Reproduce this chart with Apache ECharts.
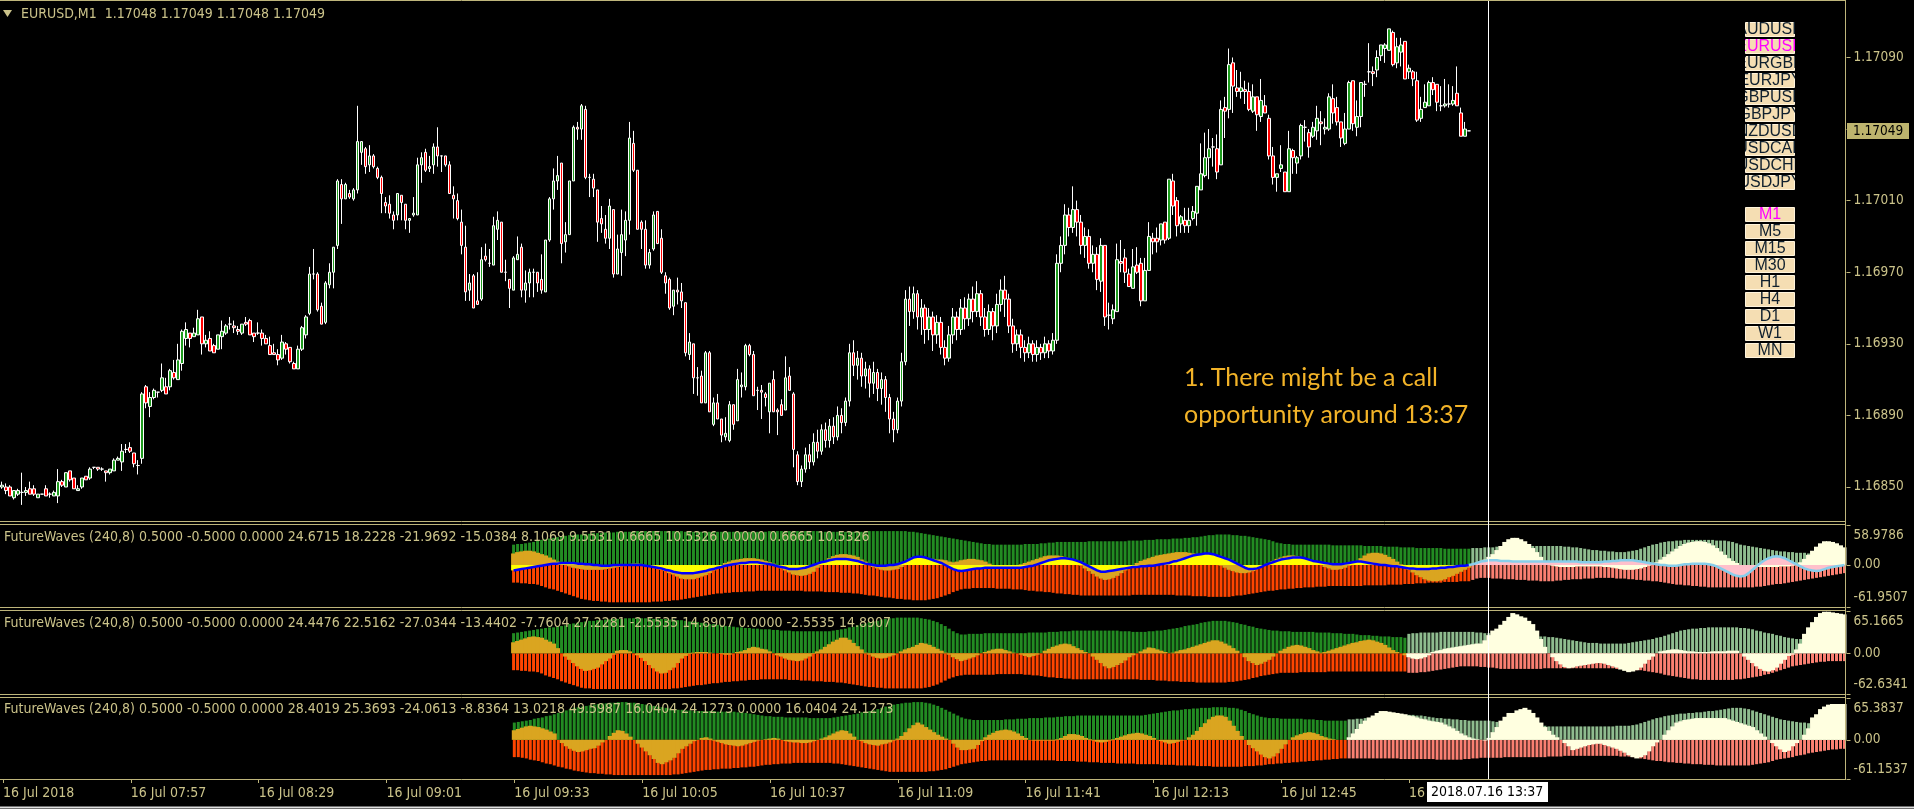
<!DOCTYPE html>
<html>
<head>
<meta charset="utf-8">
<title>EURUSD,M1 FutureWaves</title>
<script src="https://cdn.jsdelivr.net/npm/echarts@6/dist/echarts.min.js"></script>
<style>
  html, body { margin: 0; padding: 0; background: #000; overflow: hidden; }
  #chart { width: 1914px; height: 809px; }
</style>
</head>
<body>
<div id="chart"></div>
<script>
// 标题 / 按钮 / 刻度
const symbolTitle = 'EURUSD,M1  1.17048 1.17049 1.17048 1.17049'
const symbols = ['AUDUSD', 'EURUSD', 'EURGBP', 'EURJPY', 'GBPUSD', 'GBPJPY', 'NZDUSD', 'USDCAD', 'USDCHF', 'USDJPY']
const timeframes = ['M1', 'M5', 'M15', 'M30', 'H1', 'H4', 'D1', 'W1', 'MN']
const timeTicks = ['16 Jul 2018', '16 Jul 07:57', '16 Jul 08:29', '16 Jul 09:01', '16 Jul 09:33', '16 Jul 10:05',
  '16 Jul 10:37', '16 Jul 11:09', '16 Jul 11:41', '16 Jul 12:13', '16 Jul 12:45', '16 Jul 13:17']
const priceLabels = [1.16850, 1.16890, 1.16930, 1.16970, 1.17010, 1.17090]
const priceTicks = [1.16850, 1.16890, 1.16930, 1.16970, 1.17010, 1.17050, 1.17090]
const markerBar = 372
const markerTime = '2018.07.16 13:37'
const note = ['1. There might be a call', 'opportunity around 13:37']

// M1 candles from 07:25, [open, close, low, high] in points (1e-5)
const candlePts = [
  [116850, 116851, 116849, 116853], [116850, 116848, 116846, 116852], [116850, 116845, 116845, 116851], [116844, 116848, 116843, 116848],
  [116846, 116848, 116845, 116849], [116847, 116847, 116840, 116858], [116847, 116848, 116845, 116850], [116849, 116846, 116846, 116853],
  [116849, 116846, 116845, 116851], [116844, 116846, 116844, 116846], [116846, 116846, 116846, 116846], [116849, 116845, 116845, 116851],
  [116846, 116846, 116844, 116847], [116845, 116847, 116845, 116848], [116845, 116853, 116841, 116860], [116853, 116851, 116850, 116854],
  [116850, 116858, 116850, 116858], [116859, 116854, 116853, 116859], [116855, 116849, 116849, 116855], [116848, 116849, 116848, 116851],
  [116850, 116855, 116849, 116855], [116856, 116854, 116854, 116856], [116855, 116860, 116854, 116861], [116861, 116861, 116860, 116861],
  [116861, 116860, 116859, 116861], [116860, 116860, 116859, 116861], [116859, 116858, 116853, 116859], [116858, 116860, 116857, 116860],
  [116859, 116865, 116859, 116866], [116865, 116866, 116865, 116867], [116864, 116870, 116859, 116874], [116871, 116871, 116869, 116874],
  [116872, 116870, 116869, 116875], [116869, 116863, 116861, 116869], [116862, 116862, 116857, 116865], [116866, 116902, 116863, 116903],
  [116906, 116897, 116894, 116907], [116895, 116900, 116889, 116903], [116900, 116904, 116899, 116905], [116903, 116903, 116900, 116903],
  [116904, 116911, 116903, 116919], [116906, 116902, 116902, 116911], [116906, 116915, 116904, 116916], [116914, 116911, 116910, 116921],
  [116910, 116921, 116910, 116930], [116919, 116937, 116915, 116938], [116933, 116938, 116929, 116942], [116936, 116933, 116928, 116936],
  [116934, 116936, 116934, 116939], [116935, 116944, 116935, 116949], [116945, 116930, 116924, 116945], [116930, 116932, 116928, 116935],
  [116933, 116926, 116926, 116937], [116929, 116925, 116925, 116930], [116927, 116935, 116927, 116935], [116934, 116937, 116927, 116943],
  [116936, 116940, 116935, 116941], [116941, 116941, 116938, 116945], [116940, 116939, 116936, 116943], [116938, 116937, 116935, 116940],
  [116936, 116941, 116935, 116941], [116942, 116941, 116940, 116945], [116943, 116935, 116935, 116944], [116936, 116934, 116931, 116936],
  [116936, 116936, 116935, 116942], [116936, 116933, 116929, 116938], [116933, 116930, 116930, 116935], [116929, 116924, 116924, 116934],
  [116925, 116924, 116924, 116930], [116924, 116921, 116918, 116927], [116922, 116931, 116921, 116935], [116930, 116927, 116924, 116931],
  [116928, 116920, 116919, 116928], [116919, 116916, 116916, 116920], [116916, 116927, 116916, 116929], [116927, 116939, 116926, 116940],
  [116935, 116945, 116933, 116946], [116947, 116969, 116946, 116973], [116969, 116969, 116966, 116983], [116969, 116949, 116948, 116970],
  [116951, 116941, 116941, 116953], [116942, 116964, 116941, 116965], [116963, 116970, 116961, 116975], [116970, 116984, 116961, 116984],
  [116985, 117021, 116983, 117022], [117019, 117011, 116997, 117022], [117011, 117019, 117011, 117020], [117014, 117012, 117011, 117016],
  [117011, 117016, 117010, 117017], [117016, 117043, 117014, 117063], [117037, 117043, 117030, 117043], [117039, 117029, 117025, 117040],
  [117030, 117035, 117026, 117041], [117035, 117029, 117028, 117036], [117028, 117023, 117022, 117029], [117023, 117014, 117003, 117024],
  [117009, 117007, 117003, 117012], [117008, 117003, 117000, 117013], [117002, 116999, 116994, 117004], [117002, 117014, 116999, 117014],
  [117013, 117009, 116999, 117013], [117008, 116999, 116994, 117008], [116999, 117000, 116992, 117000], [117002, 117003, 117001, 117012],
  [117002, 117030, 117002, 117034], [117030, 117034, 117020, 117037], [117037, 117027, 117026, 117039], [117028, 117029, 117026, 117035],
  [117030, 117040, 117025, 117042], [117040, 117035, 117029, 117051], [117035, 117035, 117026, 117035], [117035, 117030, 117029, 117035],
  [117030, 117014, 117014, 117032], [117013, 117011, 117000, 117018], [117010, 117000, 116999, 117014], [116998, 116985, 116980, 117005],
  [116984, 116959, 116954, 116996], [116960, 116964, 116954, 116969], [116968, 116950, 116950, 116969], [116954, 116952, 116952, 116970],
  [116955, 116977, 116954, 116984], [116979, 116977, 116976, 116986], [116975, 116975, 116973, 116983], [116974, 116996, 116974, 117001],
  [116994, 116999, 116988, 117004], [116998, 116970, 116970, 116998], [116970, 116970, 116965, 116977], [116966, 116961, 116950, 116966],
  [116960, 116978, 116960, 116979], [116977, 116980, 116977, 116990], [116984, 116960, 116956, 116986], [116960, 116964, 116953, 116971],
  [116964, 116970, 116956, 116972], [116970, 116970, 116956, 116972], [116970, 116964, 116959, 116970], [116966, 116960, 116958, 116980],
  [116959, 116988, 116959, 116988], [116988, 117011, 116987, 117012], [117011, 117021, 117005, 117028], [117021, 117024, 117016, 117035],
  [117031, 116986, 116975, 117031], [116987, 116991, 116981, 116998], [116991, 117021, 116991, 117021], [117021, 117051, 117021, 117052],
  [117051, 117050, 117044, 117054], [117050, 117063, 117044, 117064], [117061, 117023, 117022, 117063], [117023, 117023, 117012, 117025],
  [117022, 117017, 117012, 117025], [117016, 116998, 116987, 117016], [117000, 116997, 116992, 117007], [116994, 116989, 116986, 117002],
  [116989, 117007, 116983, 117011], [117005, 116969, 116967, 117005], [116969, 116983, 116969, 116991], [116981, 116991, 116968, 117005],
  [116988, 116999, 116979, 117004], [116999, 117045, 116991, 117054], [117042, 117027, 117026, 117049], [117027, 116994, 116994, 117027],
  [116998, 116994, 116983, 116999], [116994, 116974, 116972, 116999], [116974, 116981, 116972, 116983], [116983, 117002, 116982, 117004],
  [117004, 116986, 116986, 117004], [116989, 116970, 116969, 116994], [116968, 116964, 116958, 116970], [116966, 116950, 116949, 116967],
  [116951, 116960, 116946, 116960], [116960, 116959, 116952, 116967], [116959, 116954, 116950, 116964], [116953, 116925, 116923, 116953],
  [116924, 116931, 116921, 116936], [116930, 116911, 116902, 116930], [116911, 116911, 116901, 116917], [116912, 116897, 116897, 116915],
  [116897, 116925, 116897, 116926], [116925, 116892, 116892, 116926], [116885, 116897, 116884, 116900], [116897, 116888, 116888, 116902],
  [116888, 116879, 116875, 116888], [116878, 116880, 116876, 116889], [116876, 116896, 116875, 116898], [116896, 116885, 116882, 116896],
  [116887, 116910, 116887, 116916], [116906, 116907, 116900, 116914], [116906, 116929, 116904, 116930], [116929, 116924, 116923, 116930],
  [116924, 116901, 116901, 116926], [116904, 116904, 116893, 116906], [116904, 116903, 116888, 116907], [116902, 116900, 116895, 116903],
  [116892, 116908, 116880, 116908], [116910, 116892, 116892, 116915], [116893, 116892, 116879, 116894], [116896, 116890, 116890, 116899],
  [116893, 116911, 116893, 116923], [116912, 116904, 116904, 116917], [116902, 116871, 116861, 116903], [116868, 116853, 116851, 116870],
  [116853, 116860, 116850, 116862], [116860, 116868, 116858, 116872], [116868, 116864, 116860, 116874], [116864, 116875, 116862, 116880],
  [116875, 116870, 116866, 116882], [116870, 116882, 116868, 116885], [116882, 116876, 116872, 116886], [116876, 116884, 116872, 116888],
  [116884, 116878, 116874, 116889], [116878, 116890, 116876, 116895], [116890, 116886, 116880, 116894], [116886, 116898, 116884, 116900],
  [116898, 116925, 116895, 116930], [116925, 116918, 116912, 116932], [116918, 116922, 116910, 116926], [116922, 116912, 116906, 116925],
  [116912, 116916, 116905, 116920], [116916, 116908, 116900, 116918], [116908, 116914, 116902, 116920], [116914, 116905, 116898, 116916],
  [116905, 116910, 116896, 116914], [116910, 116900, 116892, 116912], [116900, 116888, 116880, 116902], [116888, 116882, 116875, 116892],
  [116882, 116898, 116880, 116900], [116898, 116920, 116895, 116925], [116920, 116955, 116918, 116960], [116955, 116948, 116940, 116962],
  [116948, 116958, 116944, 116962], [116958, 116945, 116938, 116960], [116945, 116950, 116935, 116955], [116950, 116938, 116930, 116952],
  [116938, 116945, 116932, 116950], [116945, 116935, 116926, 116948], [116935, 116942, 116930, 116946], [116942, 116928, 116924, 116945],
  [116928, 116922, 116918, 116932], [116922, 116935, 116920, 116940], [116935, 116945, 116930, 116950], [116945, 116938, 116932, 116948],
  [116938, 116950, 116935, 116955], [116950, 116944, 116938, 116956], [116944, 116955, 116940, 116958], [116955, 116948, 116942, 116962],
  [116948, 116958, 116945, 116965], [116958, 116945, 116940, 116960], [116945, 116938, 116934, 116950], [116938, 116948, 116935, 116952],
  [116948, 116940, 116932, 116950], [116940, 116952, 116936, 116958], [116952, 116960, 116948, 116966], [116960, 116955, 116945, 116968],
  [116955, 116940, 116936, 116958], [116940, 116930, 116925, 116944], [116930, 116935, 116926, 116938], [116935, 116928, 116922, 116938],
  [116928, 116925, 116920, 116932], [116925, 116930, 116922, 116934], [116930, 116924, 116920, 116932], [116924, 116928, 116920, 116932],
  [116928, 116925, 116921, 116930], [116925, 116930, 116922, 116934], [116930, 116926, 116922, 116932], [116926, 116932, 116924, 116936],
  [116932, 116975, 116930, 116980], [116975, 116985, 116970, 116990], [116985, 117002, 116980, 117008], [117002, 116995, 116990, 117006],
  [116995, 117005, 116992, 117018], [117005, 116998, 116990, 117010], [116998, 116985, 116980, 117002], [116985, 116990, 116978, 116995],
  [116990, 116975, 116972, 116994], [116975, 116980, 116970, 116985], [116980, 116966, 116960, 116984], [116965, 116985, 116959, 116989],
  [116985, 116945, 116940, 116985], [116946, 116946, 116938, 116953], [116944, 116949, 116941, 116952], [116948, 116977, 116948, 116986],
  [116976, 116975, 116970, 116988], [116978, 116970, 116964, 116983], [116969, 116962, 116962, 116972], [116961, 116973, 116961, 116983],
  [116974, 116970, 116969, 116984], [116975, 116954, 116951, 116978], [116954, 116971, 116954, 116978], [116971, 116990, 116971, 116998],
  [116989, 116987, 116980, 116992], [116989, 116987, 116981, 116995], [116988, 116997, 116985, 116997], [116998, 116988, 116986, 116998],
  [116989, 117022, 116988, 117022], [117021, 117007, 117002, 117025], [117010, 116996, 116990, 117012], [116997, 117001, 116992, 117002],
  [116999, 116996, 116992, 117006], [116996, 116999, 116992, 117006], [117000, 117004, 116999, 117007], [117003, 117018, 116996, 117018],
  [117016, 117025, 117016, 117042], [117024, 117034, 117023, 117048], [117034, 117039, 117022, 117050], [117040, 117040, 117029, 117045],
  [117039, 117026, 117022, 117047], [117030, 117061, 117030, 117066], [117062, 117060, 117045, 117068], [117061, 117086, 117056, 117095],
  [117087, 117074, 117059, 117090], [117073, 117071, 117068, 117083], [117071, 117073, 117067, 117082], [117072, 117071, 117064, 117077],
  [117071, 117061, 117060, 117076], [117060, 117068, 117059, 117075], [117068, 117058, 117049, 117068], [117057, 117066, 117054, 117078],
  [117063, 117059, 117059, 117069], [117056, 117035, 117033, 117058], [117035, 117023, 117019, 117040], [117023, 117025, 117015, 117025],
  [117028, 117030, 117026, 117041], [117026, 117015, 117015, 117026], [117015, 117039, 117015, 117049], [117038, 117034, 117025, 117039],
  [117031, 117034, 117025, 117035], [117035, 117052, 117033, 117053], [117051, 117051, 117043, 117055], [117048, 117040, 117034, 117050],
  [117046, 117051, 117045, 117054], [117049, 117056, 117044, 117063], [117054, 117053, 117041, 117060], [117050, 117051, 117047, 117056],
  [117050, 117068, 117049, 117070], [117067, 117059, 117053, 117075], [117062, 117054, 117052, 117068], [117054, 117045, 117040, 117054],
  [117042, 117050, 117041, 117059], [117050, 117076, 117050, 117077], [117077, 117053, 117049, 117077], [117051, 117057, 117046, 117066],
  [117057, 117076, 117051, 117076], [117075, 117075, 117068, 117077], [117082, 117082, 117076, 117098], [117082, 117081, 117074, 117085],
  [117083, 117090, 117079, 117094], [117091, 117097, 117088, 117097], [117095, 117097, 117087, 117098], [117094, 117106, 117094, 117106],
  [117104, 117086, 117085, 117105], [117087, 117096, 117084, 117101], [117093, 117097, 117085, 117101], [117099, 117078, 117078, 117099],
  [117082, 117084, 117078, 117086], [117082, 117078, 117074, 117083], [117077, 117055, 117054, 117082], [117056, 117061, 117054, 117068],
  [117062, 117065, 117062, 117075], [117063, 117076, 117063, 117077], [117076, 117072, 117069, 117079], [117075, 117065, 117060, 117075],
  [117063, 117063, 117060, 117074], [117063, 117064, 117062, 117078], [117064, 117064, 117062, 117075], [117064, 117066, 117063, 117074],
  [117070, 117063, 117063, 117085], [117059, 117046, 117046, 117062], [117046, 117050, 117046, 117054], [117049, 117049, 117049, 117049]
]

// FutureWaves 指标，从第 128 根开始
const sub1Header = 'FutureWaves (240,8) 0.5000 -0.5000 0.0000 24.6715 18.2228 -21.9692 -15.0384 8.1069 9.5531 0.6665 10.5326 0.0000 0.6665 10.5326'
const sub2Header = 'FutureWaves (240,8) 0.5000 -0.5000 0.0000 24.4476 22.5162 -27.0344 -13.4402 -7.7604 27.2281 -2.5535 14.8907 0.0000 -2.5535 14.8907'
const sub3Header = 'FutureWaves (240,8) 0.5000 -0.5000 0.0000 28.4019 25.3693 -24.0613 -8.8364 13.0218 49.5987 16.0404 24.1273 0.0000 16.0404 24.1273'
const sub1Range = [-61.9507, 58.9786]
const sub2Range = [-62.6341, 65.1665]
const sub3Range = [-61.1537, 65.3837]

const sub1Up = [
  30, 31, 31, 32, 33, 34, 36, 37, 38, 39, 40, 41, 42, 43, 44, 44, 45, 45, 46, 46,
  47, 47, 47, 48, 48, 48, 49, 49, 49, 49, 50, 50, 50, 50, 50, 50, 50, 50, 50, 50,
  50, 50, 50, 49, 49, 49, 49, 49, 49, 49, 49, 49, 49, 49, 49, 49, 49, 49, 49, 49,
  49, 49, 49, 49, 50, 50, 50, 50, 50, 50, 50, 50, 50, 50, 50, 50, 50, 49, 49, 49,
  49, 49, 49, 49, 49, 49, 49, 49, 50, 50, 50, 50, 50, 50, 50, 50, 50, 50, 50, 49,
  49, 48, 47, 46, 45, 44, 43, 42, 41, 40, 39, 38, 37, 36, 35, 34, 33, 32, 31, 31,
  30, 30, 30, 30, 30, 30, 30, 30, 31, 31, 31, 31, 32, 32, 33, 33, 34, 34, 34, 34,
  34, 34, 34, 34, 35, 35, 35, 35, 35, 35, 35, 35, 35, 35, 36, 36, 36, 36, 37, 37,
  37, 38, 38, 38, 38, 39, 39, 39, 40, 40, 41, 41, 42, 43, 44, 44, 45, 45, 45, 45,
  44, 44, 43, 43, 42, 41, 40, 39, 38, 37, 35, 33, 32, 31, 31, 30, 30, 30, 30, 30,
  30, 30, 30, 30, 30, 29, 29, 29, 29, 29, 29, 29, 29, 28, 28, 28, 28, 28, 27, 27,
  27, 27, 26, 26, 26, 26, 25, 25, 25, 25, 25, 25, 25, 24, 24, 24, 24, 24, 24, 24,
  25, 25, 25, 26, 26, 26, 27, 27, 27, 28, 28, 28, 28, 28, 28, 28, 28, 28, 28, 28,
  28, 28, 28, 27, 27, 26, 26, 25, 24, 23, 22, 22, 21, 21, 20, 20, 19, 19, 19, 20,
  21, 22, 24, 26, 28, 30, 31, 33, 34, 35, 35, 36, 36, 37, 37, 37, 37, 37, 37, 37,
  37, 36, 36, 36, 35, 34, 32, 30, 29, 28, 27, 26, 25, 24, 23, 22, 21, 20, 20, 19,
  19, 18, 18, 18, 17, 17, 17, 17, 17, 17, 17, 17, 17, 17
]
const sub1Down = [
  -26, -26, -27, -27, -28, -28, -29, -31, -33, -35, -36, -38, -40, -42, -44, -46, -48, -50, -51, -52,
  -53, -53, -54, -54, -55, -55, -55, -55, -55, -55, -55, -55, -55, -55, -55, -54, -54, -54, -53, -53,
  -52, -52, -51, -50, -49, -48, -47, -46, -45, -44, -43, -42, -42, -41, -41, -40, -40, -40, -39, -39,
  -39, -38, -38, -38, -38, -38, -38, -38, -38, -38, -38, -38, -38, -39, -39, -39, -39, -39, -40, -40,
  -40, -40, -41, -41, -41, -42, -42, -43, -44, -45, -45, -46, -47, -48, -48, -49, -50, -50, -51, -51,
  -52, -52, -52, -52, -51, -50, -49, -47, -45, -43, -40, -38, -36, -35, -35, -34, -34, -34, -34, -34,
  -34, -35, -35, -35, -35, -36, -36, -36, -37, -38, -38, -39, -39, -40, -40, -41, -42, -42, -43, -43,
  -44, -44, -45, -45, -45, -45, -45, -45, -45, -45, -45, -45, -45, -45, -45, -44, -44, -44, -44, -44,
  -44, -44, -44, -44, -44, -44, -45, -45, -45, -45, -46, -46, -46, -46, -47, -47, -47, -47, -47, -47,
  -46, -45, -45, -44, -43, -42, -41, -40, -39, -38, -38, -37, -36, -36, -35, -35, -34, -34, -33, -33,
  -33, -32, -32, -32, -31, -31, -31, -31, -31, -31, -31, -31, -31, -30, -30, -30, -30, -30, -30, -29,
  -29, -29, -29, -28, -28, -28, -27, -27, -27, -26, -26, -26, -26, -25, -25, -25, -25, -24, -24, -24,
  -22, -20, -19, -19, -19, -20, -20, -20, -21, -21, -21, -22, -22, -22, -23, -23, -23, -24, -24, -24,
  -24, -23, -23, -22, -22, -21, -21, -21, -20, -20, -20, -19, -19, -19, -19, -19, -20, -20, -20, -21,
  -21, -22, -22, -23, -23, -24, -24, -25, -26, -27, -28, -29, -29, -30, -30, -31, -31, -32, -32, -33,
  -33, -33, -33, -33, -33, -33, -33, -33, -33, -33, -33, -32, -32, -31, -30, -29, -28, -28, -27, -26,
  -25, -24, -23, -22, -21, -20, -19, -18, -17, -16, -15, -14, -13, -12
]
const sub1Wave = [
  17, 19, 20, 21, 21, 20, 18, 16, 14, 11, 8, 5, 2, 0, -2, -4, -5, -6, -7, -7,
  -7, -7, -7, -6, -5, -4, -3, -2, 0, 1, 2, 2, 1, 0, -1, -3, -5, -7, -9, -12,
  -14, -17, -20, -21, -21, -21, -19, -17, -15, -12, -8, -5, -1, 3, 5, 7, 8, 9, 10, 10,
  10, 9, 8, 6, 4, 2, -1, -5, -8, -11, -14, -15, -16, -15, -13, -10, -4, 2, 6, 10,
  13, 15, 16, 16, 15, 14, 12, 8, 5, 1, -3, -5, -7, -8, -8, -7, -6, -3, 0, 2,
  4, 6, 7, 8, 9, 9, 8, 8, 7, 5, 4, 5, 7, 8, 9, 9, 8, 7, 5, 2,
  0, -2, -4, -5, -5, -4, -2, 1, 3, 5, 7, 9, 11, 13, 14, 14, 14, 13, 11, 8,
  5, 2, -1, -5, -9, -13, -17, -20, -22, -21, -19, -16, -12, -8, -4, 0, 3, 6, 8, 10,
  12, 14, 15, 16, 17, 18, 19, 19, 19, 18, 17, 15, 12, 10, 8, 5, 2, -1, -4, -7,
  -9, -11, -12, -12, -11, -9, -6, -3, 0, 3, 6, 9, 11, 13, 14, 14, 13, 11, 9, 7,
  4, 2, 0, -3, -5, -7, -7, -6, -4, -1, 2, 6, 10, 14, 17, 18, 18, 17, 15, 12,
  9, 5, 1, -3, -7, -11, -15, -18, -21, -23, -24, -24, -23, -21, -18, -16, -13, -10, -7, -4,
  0, 2, 5, 8, 12, 16, 22, 28, 34, 38, 40, 40, 38, 35, 31, 25, 19, 12, 6, 1,
  -1, -2, -3, -3, -3, -3, -2, -2, -2, -2, -2, -2, -2, -3, -3, -4, -5, -6, -7, -7,
  -7, -6, -5, -3, -1, 1, 4, 8, 12, 16, 20, 24, 28, 31, 33, 34, 35, 35, 34, 32,
  29, 25, 20, 15, 10, 6, 3, 0, -1, -2, -3, -3, -3, -3, -3, -3, -3, -2, -2, -2,
  -1, 1, 4, 9, 15, 21, 27, 32, 35, 35, 34, 32, 29, 26
]
const sub1Line = [
  -8, -7, -6, -5, -4, -3, -2, -1, 0, 1, 2, 2, 3, 3, 3, 3, 2, 2, 1, 1,
  0, 0, -1, -1, -1, 0, 0, 0, 0, 0, 0, 0, 0, -1, -2, -3, -4, -5, -7, -8,
  -10, -11, -12, -12, -12, -12, -11, -10, -9, -7, -6, -4, -3, -1, 0, 1, 2, 3, 3, 4,
  4, 4, 3, 2, 1, 0, -2, -3, -4, -6, -6, -6, -5, -4, -2, 0, 2, 4, 5, 7,
  8, 9, 9, 9, 8, 7, 6, 4, 2, 1, 0, -1, -1, -1, 0, 0, 1, 3, 5, 8,
  11, 12, 12, 11, 9, 7, 5, 3, 0, -3, -6, -8, -9, -8, -7, -6, -5, -5, -4, -4,
  -4, -4, -4, -4, -4, -4, -4, -4, -3, -2, -1, 1, 3, 5, 7, 8, 9, 10, 10, 9,
  8, 6, 4, 1, -2, -5, -8, -10, -10, -9, -8, -7, -6, -5, -4, -3, -3, -2, -2, -1,
  -1, 0, 1, 2, 3, 5, 6, 8, 10, 12, 14, 15, 16, 17, 17, 16, 14, 12, 10, 8,
  5, 2, -1, -4, -6, -6, -5, -3, 0, 2, 4, 6, 8, 9, 10, 11, 11, 11, 10, 8,
  6, 5, 4, 3, 2, 1, 1, 1, 2, 3, 4, 5, 5, 4, 3, 2, 1, 0, 0, -1,
  -2, -2, -3, -4, -5, -5, -6, -6, -6, -6, -5, -5, -4, -4, -3, -3, -2, -1, -1, 0,
  1, 3, 5, 6, 7, 7, 7, 6, 6, 6, 5, 5, 5, 5, 5, 5, 5, 5, 5, 5,
  5, 5, 5, 5, 5, 5, 5, 4, 4, 4, 4, 4, 4, 5, 5, 6, 6, 7, 7, 7,
  7, 6, 5, 4, 3, 2, 1, 0, 0, -1, -1, -1, 0, 1, 1, 2, 2, 2, 2, 1,
  0, -2, -5, -8, -11, -14, -16, -17, -16, -12, -7, -2, 3, 7, 10, 12, 13, 12, 10, 7,
  4, 1, -2, -5, -7, -8, -9, -8, -6, -4, -3, -2, -1, 0
]

const sub2Up = [
  31, 32, 33, 34, 35, 36, 37, 38, 39, 40, 40, 41, 42, 43, 45, 46, 47, 48, 49, 50,
  50, 51, 51, 52, 52, 53, 53, 53, 54, 54, 54, 54, 54, 54, 54, 53, 53, 53, 53, 52,
  52, 51, 51, 50, 49, 49, 48, 47, 46, 45, 45, 44, 43, 42, 42, 41, 40, 40, 39, 39,
  38, 38, 37, 37, 37, 36, 36, 35, 35, 35, 34, 34, 34, 34, 34, 34, 34, 34, 34, 34,
  35, 36, 37, 38, 40, 41, 43, 45, 46, 48, 49, 50, 52, 53, 54, 54, 55, 55, 55, 55,
  55, 55, 54, 53, 52, 50, 48, 45, 42, 38, 34, 31, 29, 29, 30, 30, 30, 30, 31, 31,
  31, 31, 31, 31, 31, 31, 31, 31, 31, 32, 32, 32, 32, 32, 33, 33, 33, 34, 34, 34,
  35, 35, 35, 35, 35, 35, 35, 35, 35, 35, 35, 35, 34, 34, 34, 33, 33, 33, 33, 34,
  34, 35, 35, 36, 37, 38, 39, 40, 42, 43, 44, 45, 47, 48, 49, 50, 50, 50, 50, 49,
  48, 47, 45, 44, 42, 41, 39, 38, 37, 36, 35, 35, 34, 34, 34, 33, 33, 33, 33, 33,
  33, 32, 32, 32, 32, 31, 31, 31, 30, 30, 30, 29, 28, 28, 28, 27, 27, 26, 26, 26,
  25, 25, 25, 24, 30, 31, 31, 32, 32, 32, 32, 32, 33, 33, 33, 33, 33, 33, 33, 33,
  33, 32, 32, 31, 31, 31, 30, 30, 30, 29, 29, 28, 28, 28, 27, 27, 27, 26, 26, 25,
  25, 24, 23, 22, 21, 20, 19, 18, 17, 16, 16, 16, 15, 15, 15, 15, 15, 15, 15, 16,
  17, 18, 19, 20, 21, 22, 24, 25, 27, 29, 31, 33, 35, 36, 37, 38, 38, 39, 39, 40,
  40, 40, 40, 40, 40, 40, 40, 39, 39, 38, 37, 35, 34, 32, 31, 30, 28, 27, 25, 24,
  23, 22, 22, 22, 22, 22, 22, 22, 22, 22, 22, 22, 22, 22
]
const sub2Down = [
  -26, -26, -27, -27, -28, -28, -29, -31, -34, -36, -38, -40, -43, -45, -47, -49, -51, -53, -54, -54,
  -55, -55, -55, -55, -55, -55, -55, -55, -55, -55, -55, -55, -55, -55, -55, -55, -55, -55, -55, -55,
  -54, -54, -53, -52, -51, -50, -49, -49, -48, -47, -46, -46, -45, -44, -44, -43, -43, -42, -42, -41,
  -41, -41, -40, -40, -40, -40, -40, -40, -40, -41, -41, -41, -42, -42, -42, -43, -43, -43, -44, -44,
  -44, -45, -45, -46, -47, -48, -49, -50, -51, -52, -52, -53, -53, -54, -54, -54, -54, -54, -54, -54,
  -54, -54, -54, -53, -52, -50, -48, -45, -42, -39, -37, -35, -34, -33, -33, -33, -33, -33, -33, -33,
  -33, -32, -32, -32, -32, -32, -32, -32, -33, -33, -34, -34, -35, -36, -37, -37, -38, -38, -39, -39,
  -40, -40, -40, -40, -40, -40, -40, -40, -40, -40, -40, -40, -40, -40, -40, -40, -40, -41, -41, -41,
  -41, -42, -42, -42, -43, -43, -43, -44, -44, -44, -44, -45, -45, -45, -45, -45, -45, -45, -45, -44,
  -44, -43, -42, -41, -40, -38, -37, -35, -34, -33, -32, -31, -30, -30, -30, -30, -30, -29, -29, -29,
  -29, -29, -29, -29, -28, -28, -28, -28, -28, -28, -28, -28, -28, -28, -28, -28, -28, -28, -28, -28,
  -28, -28, -28, -28, -30, -30, -30, -29, -29, -28, -27, -26, -25, -24, -23, -22, -21, -20, -20, -20,
  -20, -20, -21, -21, -22, -22, -23, -24, -24, -24, -24, -24, -24, -24, -24, -24, -24, -24, -23, -23,
  -23, -23, -23, -23, -23, -23, -23, -23, -23, -23, -23, -23, -23, -23, -23, -23, -24, -24, -24, -25,
  -25, -26, -26, -27, -28, -29, -30, -31, -33, -34, -35, -36, -37, -38, -39, -40, -40, -41, -41, -41,
  -41, -41, -41, -41, -41, -41, -40, -40, -39, -38, -37, -36, -35, -33, -32, -30, -28, -26, -24, -22,
  -20, -19, -18, -17, -16, -15, -14, -13, -13, -12, -12, -12, -12, -12
]
const sub2Wave = [
  17, 19, 21, 23, 25, 26, 25, 24, 21, 18, 15, 8, 0, -5, -10, -15, -20, -24, -27, -26,
  -24, -22, -17, -12, -8, -2, 4, 5, 5, 3, 0, -3, -7, -12, -18, -23, -28, -31, -30, -26,
  -22, -15, -8, -4, -1, 1, 2, 2, 2, 1, 0, 0, -1, -2, -2, 0, 2, 3, 5, 8,
  10, 9, 7, 6, 3, 0, -3, -5, -8, -10, -11, -12, -11, -8, -5, -1, 3, 6, 10, 14,
  18, 21, 24, 24, 21, 16, 11, 6, 1, -2, -5, -7, -8, -7, -5, -3, 0, 3, 6, 8,
  10, 13, 16, 15, 13, 10, 7, 4, 1, -2, -6, -9, -12, -10, -8, -6, -3, 0, 2, 4,
  6, 7, 7, 5, 3, 1, 0, -2, -4, -6, -4, -2, 0, 4, 7, 10, 12, 14, 15, 14,
  11, 8, 5, 2, 0, -5, -10, -15, -20, -23, -21, -18, -15, -11, -6, -3, 0, 3, 6, 9,
  8, 6, 4, 2, 0, 1, 3, 5, 6, 8, 10, 12, 14, 16, 18, 20, 20, 18, 15, 12,
  8, 4, 0, -6, -12, -15, -18, -16, -13, -10, -5, 0, 4, 7, 10, 12, 13, 12, 10, 8,
  5, 3, 1, 2, 4, 6, 8, 10, 12, 14, 16, 17, 19, 20, 21, 20, 18, 16, 13, 9,
  5, 2, 0, -3, -6, -8, -9, -8, -6, -3, 2, 4, 5, 7, 8, 9, 10, 11, 12, 13,
  14, 15, 15, 20, 28, 35, 38, 44, 50, 56, 62, 60, 57, 55, 50, 45, 35, 22, 10, 0,
  -6, -12, -17, -21, -23, -22, -20, -19, -18, -17, -16, -15, -15, -16, -18, -20, -22, -25, -27, -29,
  -28, -26, -22, -16, -10, -5, 0, 3, 4, 5, 6, 6, 5, 4, 3, 3, 2, 2, 2, 2,
  3, 3, 3, 3, 4, 4, 4, 0, -5, -10, -15, -20, -24, -27, -28, -26, -22, -16, -10, -4,
  -2, 6, 15, 30, 40, 48, 56, 62, 64, 64, 63, 62, 61, 60
]

const sub3Up = [
  27, 28, 29, 30, 31, 33, 34, 35, 37, 38, 40, 42, 44, 46, 48, 50, 51, 52, 53, 54,
  55, 56, 57, 57, 58, 58, 59, 59, 59, 58, 58, 57, 56, 55, 54, 53, 52, 51, 50, 49,
  48, 47, 47, 46, 46, 45, 45, 45, 45, 45, 45, 44, 44, 44, 44, 44, 43, 43, 42, 41,
  40, 39, 38, 37, 37, 36, 36, 36, 35, 35, 35, 35, 35, 35, 34, 34, 34, 34, 34, 34,
  35, 36, 37, 38, 39, 40, 41, 43, 44, 45, 46, 48, 50, 52, 53, 55, 56, 57, 58, 58,
  59, 59, 59, 58, 57, 55, 53, 50, 47, 44, 41, 38, 35, 33, 32, 31, 31, 31, 31, 31,
  31, 31, 31, 32, 32, 32, 33, 33, 33, 34, 34, 34, 34, 35, 35, 35, 36, 36, 37, 37,
  37, 38, 38, 38, 38, 38, 38, 38, 38, 38, 38, 38, 38, 38, 38, 38, 38, 38, 39, 40,
  41, 42, 43, 44, 45, 46, 46, 47, 48, 48, 49, 49, 50, 50, 50, 51, 51, 51, 51, 50,
  50, 49, 47, 45, 42, 40, 38, 36, 35, 34, 34, 34, 33, 33, 33, 33, 33, 33, 32, 32,
  32, 31, 31, 30, 30, 30, 30, 30, 30, 32, 32, 33, 33, 34, 34, 35, 35, 36, 36, 37,
  37, 38, 38, 39, 39, 39, 38, 38, 37, 36, 35, 34, 34, 33, 33, 32, 32, 31, 31, 30,
  30, 30, 30, 30, 30, 29, 28, 27, 26, 25, 25, 24, 24, 23, 23, 22, 22, 22, 22, 21,
  21, 21, 21, 21, 21, 21, 21, 21, 21, 21, 21, 21, 21, 21, 21, 21, 22, 22, 22, 22,
  23, 24, 26, 28, 30, 32, 34, 35, 37, 38, 39, 40, 41, 41, 42, 42, 43, 43, 44, 45,
  45, 46, 47, 48, 49, 50, 50, 50, 49, 48, 46, 44, 42, 40, 38, 36, 34, 32, 31, 30,
  29, 28, 27, 27, 26, 26, 25, 25, 25, 25, 25, 25, 25, 25
]
const sub3Down = [
  -27, -27, -28, -29, -31, -32, -33, -35, -37, -38, -40, -42, -43, -45, -46, -48, -49, -50, -51, -52,
  -52, -53, -53, -54, -54, -55, -55, -55, -55, -55, -55, -55, -55, -55, -55, -55, -55, -55, -55, -55,
  -54, -54, -53, -52, -51, -50, -49, -48, -47, -47, -46, -46, -45, -45, -45, -44, -44, -43, -43, -42,
  -42, -41, -40, -39, -39, -38, -38, -37, -37, -37, -36, -36, -36, -36, -36, -36, -36, -36, -36, -36,
  -37, -37, -38, -39, -40, -41, -42, -43, -44, -45, -46, -47, -48, -49, -50, -50, -50, -50, -50, -50,
  -50, -50, -50, -50, -49, -49, -48, -47, -46, -44, -42, -40, -38, -37, -36, -35, -34, -33, -33, -32,
  -32, -32, -32, -32, -32, -32, -32, -32, -32, -32, -32, -32, -32, -32, -32, -32, -33, -33, -33, -33,
  -33, -34, -34, -34, -35, -35, -35, -36, -36, -36, -36, -37, -37, -37, -37, -37, -38, -38, -38, -38,
  -38, -38, -39, -39, -39, -39, -40, -40, -40, -40, -40, -41, -41, -41, -41, -42, -42, -42, -42, -42,
  -42, -42, -42, -41, -41, -41, -40, -40, -39, -38, -38, -37, -37, -36, -36, -35, -35, -34, -34, -33,
  -33, -32, -32, -31, -31, -30, -30, -29, -29, -29, -29, -29, -29, -29, -29, -29, -29, -29, -29, -29,
  -29, -29, -30, -30, -30, -30, -30, -30, -30, -30, -30, -31, -31, -31, -31, -31, -31, -31, -30, -30,
  -29, -29, -28, -28, -28, -28, -28, -28, -27, -27, -27, -27, -27, -27, -27, -27, -27, -27, -27, -26,
  -26, -26, -26, -25, -25, -25, -25, -25, -25, -25, -25, -25, -25, -25, -25, -25, -25, -26, -26, -26,
  -27, -28, -29, -30, -31, -32, -33, -33, -34, -35, -35, -36, -36, -37, -37, -38, -38, -38, -39, -39,
  -39, -40, -40, -40, -40, -40, -40, -40, -40, -40, -39, -38, -37, -36, -35, -33, -31, -30, -29, -28,
  -27, -25, -24, -23, -21, -20, -19, -18, -17, -16, -15, -15, -14, -14
]
const sub3Wave = [
  15, 17, 19, 21, 22, 21, 20, 18, 16, 13, 10, 0, -5, -10, -14, -17, -19, -18, -16, -14,
  -13, -9, -4, 0, 6, 11, 15, 14, 10, 5, 0, -6, -12, -18, -24, -30, -36, -38, -35, -32,
  -28, -21, -14, -10, -6, -2, 0, 3, 4, 2, -1, -3, -5, -7, -8, -9, -10, -9, -7, -5,
  -3, -1, 0, 1, 2, 3, 2, 0, -2, -3, -4, -4, -5, -5, -4, -2, 0, 2, 4, 7,
  10, 13, 15, 14, 10, 5, 0, -2, -5, -7, -8, -9, -7, -6, -4, -1, 2, 6, 12, 18,
  23, 27, 24, 20, 16, 12, 8, 5, 2, 0, -6, -12, -16, -16, -15, -14, -8, -2, 4, 8,
  11, 14, 15, 16, 15, 13, 10, 6, 3, 0, -1, -1, -1, -1, -1, -1, 1, 3, 6, 9,
  9, 8, 6, 3, 1, -1, -3, -4, -3, -1, 1, 3, 5, 7, 9, 10, 11, 10, 8, 6,
  3, 0, -2, -4, -6, -5, -3, -1, 0, 4, 8, 14, 20, 26, 32, 36, 38, 38, 36, 30,
  22, 14, 6, 0, -8, -13, -18, -23, -27, -29, -26, -21, -14, -7, 0, 4, 7, 9, 11, 12,
  11, 9, 6, 4, 2, 1, 0, 0, 0, 4, 10, 17, 25, 30, 35, 38, 42, 45, 45, 44,
  43, 42, 41, 40, 38, 37, 35, 33, 32, 30, 29, 28, 27, 24, 21, 18, 14, 10, 7, 4,
  2, 1, 0, -1, 3, 12, 20, 30, 36, 42, 42, 46, 48, 50, 47, 42, 35, 27, 20, 14,
  8, 4, 0, -5, -10, -16, -14, -12, -10, -8, -7, -6, -6, -8, -10, -12, -14, -17, -20, -24,
  -27, -29, -27, -24, -18, -10, -4, 0, 8, 15, 21, 27, 29, 31, 32, 33, 34, 34, 34, 34,
  34, 34, 34, 34, 32, 30, 28, 26, 24, 22, 20, 15, 10, 5, 0, -5, -10, -15, -19, -17,
  -10, -5, 0, 8, 18, 35, 40, 48, 52, 55, 56, 56, 56, 56
]

// ---- 布局 ----
const TOTAL = 462 // 每根 4px
const WAVE_START = 128
const FONT = '"DejaVu Sans Condensed", "Liberation Sans Narrow", "DejaVu Sans", sans-serif'
const TXT = '#CBC38A'
const FRAME = '#BEB57B'

const panes = [
  { up: sub1Up, down: sub1Down, wave: sub1Wave, line: sub1Line, range: sub1Range, split: 368, header: sub1Header, top: 525, height: 82 },
  { up: sub2Up, down: sub2Down, wave: sub2Wave, range: sub2Range, split: 352, header: sub2Header, top: 611, height: 83 },
  { up: sub3Up, down: sub3Down, wave: sub3Wave, range: sub3Range, split: 337, header: sub3Header, top: 698, height: 81 }
]

const cats = []
for (let i = 0; i < TOTAL; i++) cats.push(i)

function pad (arr) {
  const out = []
  for (let i = 0; i < WAVE_START; i++) out.push('-')
  return out.concat(arr)
}
function byPhase (split, past, future) {
  return function (p) { return p.dataIndex < split ? past : future }
}
function part (arr, from, to) {
  return pad(arr).map(function (v, i) { return (i >= from && i <= to) ? v : '-' })
}

const chart = echarts.init(document.getElementById('chart'), null, { renderer: 'canvas' })

const grids = [{ left: -1.5, top: 2, width: TOTAL * 4, height: 519 }]
const xAxes = [{ type: 'category', gridIndex: 0, data: cats, show: false, axisLine: { onZero: false } }]
const yAxes = [{
  type: 'value',
  gridIndex: 0,
  position: 'right',
  min: 1.16831,
  max: 1.17121,
  axisLine: { show: false },
  splitLine: { show: false },
  axisTick: { show: true, customValues: priceTicks, length: 4, lineStyle: { color: FRAME } },
  axisLabel: { customValues: priceLabels, color: TXT, fontSize: 13.5, fontFamily: FONT, margin: 7, formatter: function (v) { return v.toFixed(5) } }
}]
const series = [{
  type: 'candlestick',
  xAxisIndex: 0,
  yAxisIndex: 0,
  barWidth: 3,
  data: candlePts.map(function (c) { return c.map(function (v) { return v / 1e5 }) }),
  itemStyle: { color: '#1E9B1E', color0: '#FF0000', borderColor: '#FFFFFF', borderColor0: '#FFFFFF', borderWidth: 1 }
}]

panes.forEach(function (p, k) {
  const g = k + 1
  grids.push({ left: -1.5, top: p.top, width: TOTAL * 4, height: p.height })
  const last = k === panes.length - 1
  const xa = xAxes.length
  xAxes.push({
    type: 'category',
    gridIndex: g,
    position: 'bottom',
    data: cats,
    show: last,
    axisLine: { show: false, onZero: false },
    axisTick: {
      show: true,
      alignWithLabel: true,
      length: 4,
      interval: function (i) { return i % 32 === 0 && i / 32 < timeTicks.length },
      lineStyle: { color: FRAME }
    },
    axisLabel: {
      interval: function (i) { return i % 32 === 0 && i / 32 < timeTicks.length },
      formatter: function (v, i) { return timeTicks[i / 32] },
      align: 'left',
      color: TXT,
      fontSize: 14,
      fontFamily: FONT,
      margin: 7
    }
  })
  const xb = xAxes.length
  xAxes.push({ type: 'category', gridIndex: g, data: cats, show: false, axisLine: { onZero: false } })
  const labelVals = [p.range[0], 0, p.range[1]]
  yAxes.push({
    type: 'value',
    gridIndex: g,
    position: 'right',
    min: p.range[0],
    max: p.range[1],
    axisLine: { show: false },
    splitLine: { show: false },
    axisTick: { show: true, customValues: labelVals, length: 4, lineStyle: { color: FRAME } },
    axisLabel: {
      customValues: labelVals,
      margin: 7,
      color: TXT,
      fontSize: 13.5,
      fontFamily: FONT,
      formatter: function (v) {
        if (v === 0) return '{z|0.00}'
        return (v > 0 ? '{t|' : '{b|') + v.toFixed(4) + '}'
      },
      rich: {
        z: { color: TXT, fontSize: 13.5, fontFamily: FONT },
        t: { color: TXT, fontSize: 13.5, fontFamily: FONT, padding: [20, 0, 0, 0] },
        b: { color: TXT, fontSize: 13.5, fontFamily: FONT, padding: [0, 0, 20, 0] }
      }
    }
  })
  const ya = yAxes.length - 1
  series.push({
    type: 'bar', xAxisIndex: xa, yAxisIndex: ya, stack: 'env' + g, barWidth: 3,
    data: pad(p.up), itemStyle: { color: byPhase(p.split, '#228B22', '#8FBC8F') }
  })
  series.push({
    type: 'bar', xAxisIndex: xa, yAxisIndex: ya, stack: 'env' + g, barWidth: 3,
    data: pad(p.down), itemStyle: { color: byPhase(p.split, '#FF4500', '#FA8072') }
  })
  series.push({
    type: 'bar', xAxisIndex: xb, yAxisIndex: ya, barWidth: 5, barGap: '-100%',
    data: pad(p.wave), itemStyle: { color: byPhase(p.split, '#DAA520', '#FFFFE0') }
  })
  if (p.line) {
    series.push({
      type: 'bar', xAxisIndex: xb, yAxisIndex: ya, barWidth: 5, barGap: '-100%',
      data: pad(p.line), itemStyle: { color: byPhase(p.split, '#FFFF00', '#FFC0CB') }
    })
    series.push({
      type: 'line', xAxisIndex: xa, yAxisIndex: ya, showSymbol: false,
      data: part(p.line, 0, p.split - 1), lineStyle: { color: '#0000FF', width: 2.5 }
    })
    series.push({
      type: 'line', xAxisIndex: xa, yAxisIndex: ya, showSymbol: false,
      data: part(p.line, p.split - 1, TOTAL), lineStyle: { color: '#87CEEB', width: 2.5 }
    })
  }
})

chart.setOption({
  backgroundColor: '#000000',
  animation: false,
  grid: grids,
  xAxis: xAxes,
  yAxis: yAxes,
  series: series
})

// ---- 叠加: 边框、标题、当前价、十字线 ----
const lastClose = candlePts[candlePts.length - 1][1] / 1e5
const yLast = chart.convertToPixel({ yAxisIndex: 0 }, lastClose)
const xMark = Math.round(chart.convertToPixel({ xAxisIndex: 0 }, markerBar) - 0.5) + 0.5

function hline (y, x1, x2, color, w) {
  return { type: 'line', shape: { x1: x1, y1: y, x2: x2, y2: y }, style: { stroke: color || FRAME, lineWidth: w || 1 }, z: 50 }
}
function text (s, x, y, font, color, align) {
  return {
    type: 'text', z: 60,
    style: { text: s, x: x, y: y, font: font, fill: color, align: align || 'left', verticalAlign: 'middle', textAlign: align || 'left', textVerticalAlign: 'middle' }
  }
}
const elems = [
  hline(0.5, 0, 1846), hline(521.5, 0, 1846), hline(524.5, 0, 1846), hline(607.5, 0, 1846),
  hline(610.5, 0, 1846), hline(694.5, 0, 1846), hline(697.5, 0, 1846), hline(779.5, 0, 1846),
  { type: 'line', shape: { x1: 1845.5, y1: 0, x2: 1845.5, y2: 780 }, style: { stroke: FRAME, lineWidth: 1 }, z: 50 },
  { type: 'line', shape: { x1: xMark, y1: 1, x2: xMark, y2: 779 }, style: { stroke: '#FFFFFF', lineWidth: 1 }, z: 55 },
  { type: 'polygon', shape: { points: [[3, 10], [12, 10], [7.5, 17]] }, style: { fill: TXT }, z: 60 },
  text(symbolTitle, 21, 14, '14px ' + FONT, TXT),
  text(sub1Header, 4, 537, '14px ' + FONT, TXT),
  text(sub2Header, 4, 623, '14px ' + FONT, TXT),
  text(sub3Header, 4, 709, '14px ' + FONT, TXT),
  text(note[0], 1184, 378, '25px Lato, "Open Sans", sans-serif', '#F2B328'),
  text(note[1], 1184, 415, '25px Lato, "Open Sans", sans-serif', '#F2B328'),
  { type: 'rect', shape: { x: 1847, y: Math.round(yLast) - 8, width: 62, height: 16 }, style: { fill: '#BDB46E' }, z: 60 },
  text(lastClose.toFixed(5), 1853, Math.round(yLast), '13.5px ' + FONT, '#000000'),
  { type: 'rect', shape: { x: 1427, y: 782, width: 121, height: 20 }, style: { fill: '#FFFFFF' }, z: 60 },
  text(markerTime, 1431, 792, '14px ' + FONT, '#000000'),
  hline(807.5, 0, 1914, '#E0E0E0', 2)
]
chart.setOption({ graphic: { elements: elems } })

// 品种 / 周期 按钮 (文字居中裁切)
const zr = chart.getZr()
function addButton (label, y, color) {
  const box = { x: 1745.5, y: y + 0.5, width: 49, height: 14 }
  zr.add(new echarts.graphic.Rect({ shape: box, style: { fill: '#F5DEB3', stroke: '#FFF4DC', lineWidth: 1 }, z: 100 }))
  const t = new echarts.graphic.Text({
    style: { text: label, x: 1770, y: y + 8, align: 'center', verticalAlign: 'middle', fill: color, font: '16px "Liberation Sans", Arial, sans-serif' },
    z: 101
  })
  t.setClipPath(new echarts.graphic.Rect({ shape: { x: 1745, y: y, width: 50, height: 16 } }))
  zr.add(t)
}
symbols.forEach(function (s, k) { addButton(s, 22 + 17 * k, s === 'EURUSD' ? '#FF00FF' : '#10202E') })
timeframes.forEach(function (s, k) { addButton(s, 207 + 17 * k, s === 'M1' ? '#FF00FF' : '#10202E') })
</script>
</body>
</html>
